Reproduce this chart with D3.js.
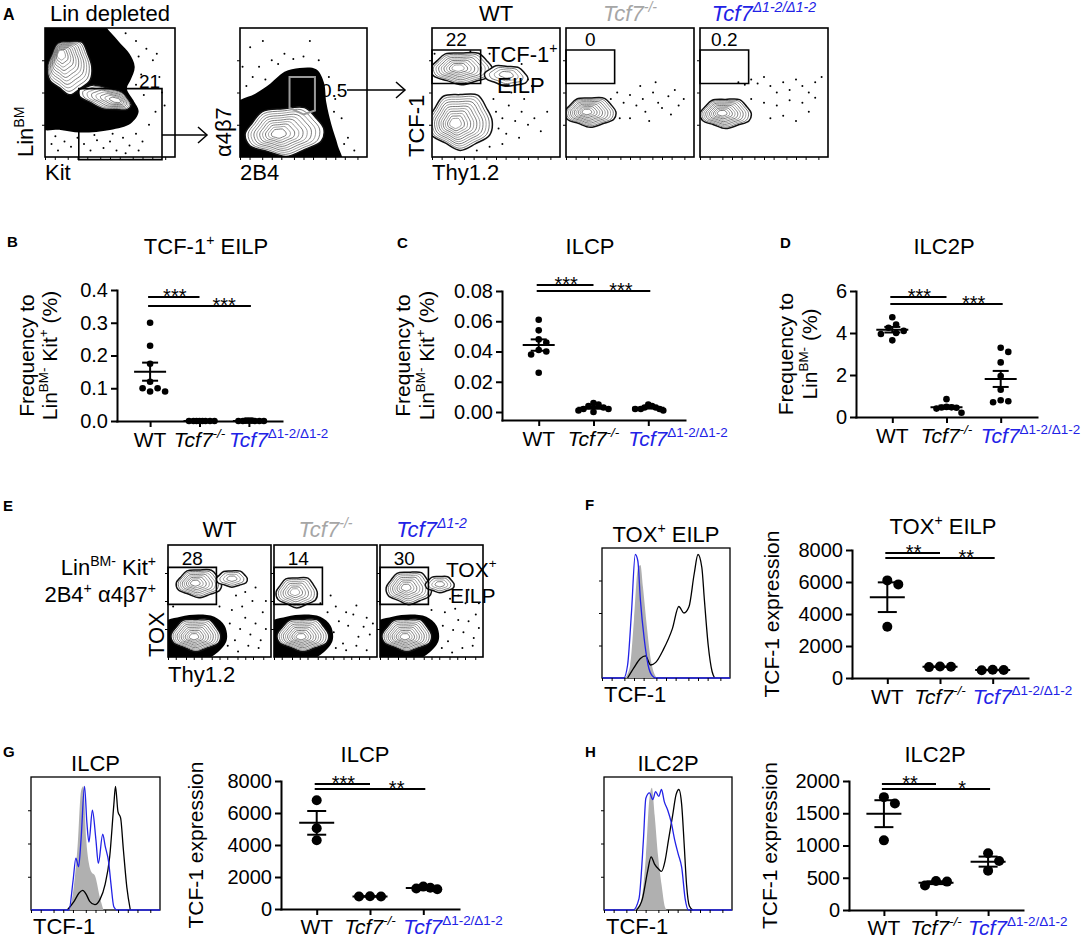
<!DOCTYPE html>
<html>
<head>
<meta charset="utf-8">
<script src="https://cdn.jsdelivr.net/npm/d3@7/dist/d3.min.js"></script>
<style>
  html, body { margin: 0; background: #fff; }
  svg { display: block; }
</style>
</head>
<body>
<svg id="fig" width="1084" height="945"></svg>
<script>
const FONT = '"Liberation Sans", Arial, Helvetica, sans-serif';
const BLUE = '#2222e6';
const GREY = '#a6a6a6';

// ---------- groups ----------
const groupKeys = ['WT', 'KO', 'DEL'];

// B: TCF-1+ EILP, % of LinBM- Kit+
const eilpWT  = [0.30, 0.23, 0.175, 0.12, 0.09, 0.10, 0.09, 0.10];
const eilpKO  = [0, 0, 0, 0, 0, 0, 0, 0];
const eilpDel = [0.001, 0, 0.001, 0, 0, 0.001, 0, 0];
const eilpTicks = [0, 0.1, 0.2, 0.3, 0.4];

// C: ILCP, % of LinBM- Kit+
const ilcpWT  = [0.061, 0.054, 0.048, 0.046, 0.041, 0.040, 0.038, 0.026];
const ilcpKO  = [0.006, 0.005, 0.004, 0.003, 0.002, 0.002, 0.001, 0.000];
const ilcpDel = [0.005, 0.004, 0.003, 0.003, 0.002, 0.002, 0.002, 0.001];
const ilcpTicks = [0, 0.02, 0.04, 0.06, 0.08];

// D: ILC2P, % of LinBM-
const ilc2pWT  = [4.75, 4.4, 4.25, 4.1, 4.0, 3.95, 3.65];
const ilc2pKO  = [0.85, 0.48, 0.46, 0.45, 0.44, 0.40, 0.20];
const ilc2pDel = [3.3, 3.1, 2.6, 1.95, 1.3, 0.8, 0.75, 0.7];
const ilc2pTicks = [0, 2, 4, 6];

// F, G, H: TCF-1 expression (MFI)
const toxMfiWT  = [6100, 5850, 3200];
const toxMfiKO  = [680, 720, 700];
const toxMfiDel = [480, 520, 500];
const ilcpMfiWT  = [6800, 5050, 4300];
const ilcpMfiKO  = [780, 800, 780];
const ilcpMfiDel = [1230, 1330, 1400, 1280];
const ilc2pMfiWT  = [1750, 1650, 1080];
const ilc2pMfiKO  = [450, 440, 380];
const ilc2pMfiDel = [880, 760, 610];
const mfiTicks  = [0, 2000, 4000, 6000, 8000];
const mfi2Ticks = [0, 500, 1000, 1500, 2000];

// histogram traces, [position 0-1 on TCF-1 axis, relative count]
const toxHistKO  = [[0.18,0],[0.22,0.1],[0.25,0.45],[0.28,0.84],[0.30,0.87],[0.32,0.7],[0.35,0.4],[0.38,0.15],[0.41,0.03],[0.43,0]];
const toxHistDel = [[0,0],[0.17,0],[0.2,0.1],[0.23,0.5],[0.26,0.95],[0.28,0.9],[0.3,0.6],[0.33,0.3],[0.36,0.1],[0.39,0.02],[0.42,0],[1,0]];
const toxHistWT  = [[0.2,0],[0.25,0.08],[0.3,0.15],[0.34,0.17],[0.38,0.1],[0.42,0.12],[0.48,0.22],[0.55,0.38],[0.6,0.55],[0.64,0.5],[0.68,0.55],[0.72,0.8],[0.75,0.95],[0.78,0.85],[0.8,0.6],[0.83,0.25],[0.86,0.05],[0.88,0]];
const ilcpHistKO  = [[0.276,0],[0.308,0.04],[0.334,0.195],[0.361,0.48],[0.388,0.895],[0.406,0.93],[0.428,0.53],[0.449,0.35],[0.468,0.286],[0.495,0.26],[0.535,0.09],[0.562,0]];
const ilcpHistDel = [[0,0],[0.294,0],[0.326,0.22],[0.348,0.39],[0.369,0.325],[0.388,0.53],[0.415,0.93],[0.433,0.66],[0.449,0.51],[0.476,0.75],[0.503,0.53],[0.522,0.35],[0.556,0.57],[0.575,0.48],[0.602,0.36],[0.62,0.195],[0.642,0.025],[0.668,0],[1,0]];
const ilcpHistWT  = [[0.281,0],[0.334,0.065],[0.374,0.13],[0.401,0.148],[0.428,0.118],[0.455,0.065],[0.495,0.04],[0.535,0.08],[0.575,0.195],[0.61,0.40],[0.642,0.79],[0.655,0.93],[0.674,0.74],[0.695,0.69],[0.716,0.455],[0.743,0.17],[0.77,0]];
const ilc2pHistKO  = [[0.232,0],[0.287,0.058],[0.327,0.40],[0.355,0.84],[0.374,0.92],[0.396,0.71],[0.423,0.40],[0.45,0.188],[0.477,0.02],[0.49,0]];
const ilc2pHistDel = [[0,0],[0.227,0],[0.273,0.084],[0.308,0.528],[0.327,0.84],[0.355,0.88],[0.381,0.83],[0.403,0.89],[0.428,0.854],[0.449,0.906],[0.471,0.815],[0.498,0.75],[0.525,0.66],[0.552,0.528],[0.58,0.42],[0.607,0.32],[0.634,0.084],[0.661,0],[1,0]];
const ilc2pHistWT  = [[0.254,0],[0.30,0.084],[0.341,0.293],[0.368,0.40],[0.395,0.345],[0.428,0.306],[0.449,0.29],[0.477,0.37],[0.504,0.528],[0.536,0.71],[0.563,0.867],[0.585,0.906],[0.607,0.79],[0.626,0.50],[0.645,0.19],[0.667,0.03],[0.694,0]];

// flow plots: shapes in box units (x right, y up); blobs = [cx, cy, rx, ry, angle, innerCx, innerCy, rings]
const linKitDense = [[-0.05,1.05],[0.42,1.05],[0.5,0.97],[0.58,0.88],[0.65,0.8],[0.69,0.7],[0.66,0.6],[0.63,0.53],[0.68,0.44],[0.72,0.35],[0.66,0.26],[0.5,0.21],[0.27,0.19],[0.12,0.21],[-0.05,0.23]];
const linKitBlobs = [[0.19,0.7,0.17,0.2,0,0.12,0.8,11],[0.46,0.46,0.21,0.08,15,0.55,0.44,8]];
const linKitDots = [[0.05,0.1],[0.1,0.05],[0.15,0.12],[0.2,0.08],[0.3,0.1],[0.35,0.05],[0.4,0.13],[0.45,0.07],[0.5,0.12],[0.55,0.05],[0.6,0.15],[0.65,0.09],[0.7,0.18],[0.75,0.12],[0.8,0.25],[0.85,0.35],[0.9,0.5],[0.88,0.62],[0.92,0.4],[0.25,0.15],[0.08,0.16],[0.38,0.17],[0.52,0.18],[0.62,0.03],[0.72,0.05],[0.83,0.75],[0.78,0.84],[0.86,0.8],[0.72,0.78],[0.74,0.64],[0.7,0.56],[0.76,0.48],[0.62,0.96],[0.7,0.9]];
const linKitGate = [[0.26,0.53],[0.9,0.53],[0.9,-0.02],[0.26,-0.02]];

const a4b7Dense = [[-0.05,-0.05],[-0.05,0.4],[0.12,0.49],[0.24,0.57],[0.35,0.66],[0.47,0.69],[0.6,0.68],[0.66,0.58],[0.68,0.42],[0.72,0.25],[0.77,0.09],[0.8,-0.05]];
const a4b7Blobs = [[0.35,0.2,0.31,0.18,-4,0.3,0.18,10]];
const a4b7Dots = [[0.05,0.55],[0.1,0.62],[0.15,0.7],[0.2,0.6],[0.25,0.75],[0.3,0.72],[0.08,0.85],[0.35,0.8],[0.42,0.76],[0.5,0.78],[0.62,0.75],[0.7,0.62],[0.75,0.45],[0.8,0.3],[0.85,0.15],[0.9,0.05],[0.78,0.55],[0.02,0.7],[0.18,0.9],[0.55,0.9],[0.74,0.35],[0.82,0.1]];
const a4b7Gate = [[0.39,0.62],[0.59,0.62],[0.59,0.36],[0.5,0.33],[0.39,0.38]];

const tcfWTBlobs = [[0.23,0.69,0.24,0.12,0,0.2,0.69,9],[0.58,0.63,0.17,0.075,6,0.58,0.64,4],[0.22,0.28,0.25,0.21,0,0.18,0.26,11]];
const tcfWTDots = [[0.5,0.35],[0.55,0.3],[0.6,0.4],[0.52,0.22],[0.65,0.28],[0.7,0.35],[0.58,0.18],[0.75,0.25],[0.68,0.15],[0.8,0.3],[0.48,0.45],[0.62,0.5],[0.72,0.45],[0.85,0.2],[0.55,0.1],[0.45,0.08],[0.9,0.35],[0.35,0.05],[0.78,0.55],[0.02,0.8],[0.3,0.82],[0.45,0.8],[0.7,0.72],[0.75,0.6]];
const tcfKOBlobs = [[0.19,0.35,0.2,0.11,0,0.16,0.35,10]];
const tcfKODots = [[0.35,0.45],[0.4,0.5],[0.45,0.42],[0.5,0.48],[0.55,0.4],[0.6,0.45],[0.62,0.35],[0.68,0.5],[0.72,0.42],[0.75,0.38],[0.8,0.47],[0.85,0.52],[0.88,0.4],[0.92,0.45],[0.5,0.3],[0.65,0.28],[0.42,0.3],[0.58,0.55],[0.7,0.58],[0.82,0.33]];
const tcfDelBlobs = [[0.2,0.34,0.2,0.11,0,0.17,0.34,10]];
const tcfDelDots = [[0.3,0.58],[0.35,0.56],[0.4,0.6],[0.45,0.57],[0.5,0.62],[0.55,0.55],[0.6,0.5],[0.65,0.58],[0.7,0.52],[0.75,0.6],[0.8,0.55],[0.85,0.5],[0.9,0.58],[0.95,0.62],[0.4,0.45],[0.5,0.42],[0.6,0.4],[0.7,0.44],[0.8,0.42],[0.9,0.46],[0.55,0.3],[0.65,0.32],[0.75,0.28],[0.85,0.35]];
const tcfGate = [[0,0.83],[0.38,0.83],[0.38,0.57],[0,0.57]];
const tcfGateLabels = ['22', '0', '0.2'];

const toxLowDense = [[-0.05,0.0],[0.1,-0.05],[0.3,-0.05],[0.48,0.04],[0.57,0.15],[0.55,0.28],[0.45,0.36],[0.3,0.38],[0.12,0.36],[-0.05,0.3]];
const toxWTBlobs = [[0.3,0.66,0.22,0.12,0,0.26,0.66,8],[0.62,0.7,0.15,0.07,0,0.62,0.7,4],[0.27,0.2,0.24,0.14,0,0.25,0.18,10]];
const toxKOBlobs = [[0.22,0.58,0.2,0.13,0,0.2,0.58,7],[0.28,0.2,0.25,0.14,0,0.26,0.18,10]];
const toxDelBlobs = [[0.28,0.62,0.22,0.14,0,0.25,0.62,8],[0.58,0.65,0.14,0.07,0,0.58,0.65,4],[0.26,0.2,0.24,0.14,0,0.24,0.18,10]];
const toxWTDots = [[0.55,0.2],[0.6,0.3],[0.65,0.15],[0.7,0.25],[0.75,0.35],[0.8,0.2],[0.85,0.3],[0.9,0.15],[0.62,0.42],[0.72,0.45],[0.82,0.5],[0.92,0.4],[0.58,0.1],[0.68,0.05],[0.78,0.1],[0.88,0.08],[0.95,0.25],[0.5,0.45],[0.85,0.62],[0.75,0.58],[0.95,0.5],[0.66,0.55],[0.05,0.45],[0.45,0.05]];
const toxKODots = [[0.58,0.22],[0.63,0.32],[0.67,0.12],[0.72,0.28],[0.77,0.38],[0.82,0.18],[0.87,0.27],[0.93,0.2],[0.6,0.45],[0.7,0.4],[0.8,0.46],[0.9,0.35],[0.6,0.08],[0.7,0.06],[0.8,0.1],[0.9,0.06],[0.96,0.3],[0.52,0.4],[0.55,0.55],[0.45,0.48]];
const toxDelDots = [[0.56,0.18],[0.61,0.28],[0.66,0.14],[0.71,0.24],[0.76,0.33],[0.81,0.22],[0.86,0.32],[0.91,0.17],[0.63,0.4],[0.73,0.43],[0.83,0.48],[0.93,0.38],[0.6,0.08],[0.7,0.04],[0.8,0.08],[0.9,0.1],[0.96,0.26],[0.5,0.42],[0.86,0.6],[0.76,0.55],[0.96,0.48],[0.68,0.52]];
const toxGate = [[0,0.8],[0.47,0.8],[0.47,0.47],[0,0.47]];
const toxGateLabels = ['28', '14', '30'];

// irregular outline used for every contour ring (radial factors)
const ringWobble = [1, 1.06, 0.97, 1.09, 0.94, 1.04, 1.0, 0.92, 1.05, 0.97, 1.1, 0.95];

// ---------- helpers ----------
const svg = d3.select('#fig').attr('font-family', FONT);

// segs: [[text, kind]] with kind 'sup' (superscript) or 'supN' (upright superscript)
function addText(parent, x, y, segs, o = {}) {
  const size = o.size || 20;
  const t = parent.append('text')
    .attr('x', x).attr('y', y)
    .attr('font-size', size)
    .attr('text-anchor', o.anchor || 'start')
    .attr('fill', o.color || '#000');
  if (o.weight) t.attr('font-weight', o.weight);
  if (o.italic) t.attr('font-style', 'italic');
  if (o.rotate) t.attr('transform', `rotate(${o.rotate},${x},${y})`);
  if (typeof segs === 'string') segs = [[segs]];
  let up = false;
  for (const [s, kind] of segs) {
    const sp = t.append('tspan').text(s);
    if (kind === 'sup' || kind === 'supN') {
      sp.attr('font-size', size * 0.64);
      if (kind === 'supN') sp.attr('font-style', 'normal');
      if (!up) { sp.attr('dy', -size * 0.42); up = true; }
    } else if (up) {
      sp.attr('dy', size * 0.42); up = false;
    }
  }
  return t;
}

const groupLabel = {
  WT:  { segs: [['WT']], color: '#000', italic: false },
  KO:  { segs: [['Tcf7'], ['-/-', 'sup']], color: '#000', italic: true },
  DEL: { segs: [['Tcf7'], ['Δ1-2/Δ1-2', 'supN']], color: BLUE, italic: true }
};

function swarm(vals, y, r, maxHalf) {
  const pts = vals.map(v => ({ v, py: y(v), dx: 0 })).sort((a, b) => a.py - b.py);
  const d = 2 * r + 1, step = d / 2;
  const placed = [];
  for (const p of pts) {
    for (let k = 0; k < 60; k++) {
      const dx = (k % 2 ? 1 : -1) * Math.ceil(k / 2) * step;
      if (placed.every(q => Math.hypot(q.dx - dx, q.py - p.py) >= d)) { p.dx = dx; break; }
    }
    placed.push(p);
  }
  const m = d3.max(pts, p => Math.abs(p.dx));
  if (m > maxHalf) pts.forEach(p => { p.dx *= maxHalf / m; });
  return pts;
}

function dotPlot(p) {
  const g = svg.append('g');
  const lo = p.zeroY === p.axisY ? 0 : -(p.axisY - p.zeroY) / (p.zeroY - p.topY) * p.max;
  const y = d3.scaleLinear().domain([lo, p.max]).range([p.axisY, p.topY]);
  const x = d3.scalePoint().domain(groupKeys).range([p.axisX, p.xEnd]).padding(0.67);

  const ya = g.append('g').attr('transform', `translate(${p.axisX},0)`)
    .call(d3.axisLeft(y).tickValues(p.ticks).tickFormat(p.fmt).tickSize(6).tickSizeOuter(0).tickPadding(3));
  ya.attr('font-family', FONT).attr('font-size', 20);
  ya.select('.domain').attr('stroke-width', 2).attr('stroke-linecap', 'square');
  ya.selectAll('.tick line').attr('stroke-width', 2);
  ya.selectAll('.tick text').attr('fill', '#000');

  const xa = g.append('g').attr('transform', `translate(0,${p.axisY})`)
    .call(d3.axisBottom(x).tickSize(6).tickSizeOuter(0).tickFormat(''));
  xa.select('.domain').attr('stroke-width', 2).attr('stroke-linecap', 'square');
  xa.selectAll('.tick line').attr('stroke-width', 2);

  groupKeys.forEach(k => {
    const L = groupLabel[k];
    const lx = k === 'DEL' ? x(k) - 20 : x(k);
    addText(g, lx, p.axisY + (p.labelDy || 26), L.segs, { size: 21, anchor: k === 'DEL' ? 'start' : 'middle', color: L.color, italic: L.italic });
  });

  p.data.forEach((vals, i) => {
    const cx = x(groupKeys[i]);
    const pts = swarm(vals, y, p.r, p.spread);
    g.append('g').selectAll('circle').data(pts).join('circle')
      .attr('cx', d => cx + d.dx).attr('cy', d => d.py).attr('r', p.r).attr('fill', '#000');
    const m = d3.mean(vals);
    const se = (d3.deviation(vals) || 0) / Math.sqrt(vals.length);
    const eb = g.append('g').attr('stroke', '#000').attr('stroke-width', 2);
    eb.append('line').attr('x1', cx - p.meanW).attr('x2', cx + p.meanW).attr('y1', y(m)).attr('y2', y(m));
    if (se > 0) {
      eb.append('line').attr('x1', cx).attr('x2', cx).attr('y1', y(m - se)).attr('y2', y(m + se));
      [m - se, m + se].forEach(v => eb.append('line')
        .attr('x1', cx - p.capW).attr('x2', cx + p.capW).attr('y1', y(v)).attr('y2', y(v)));
    }
  });

  // significance brackets
  const [s1, s2] = p.sig;
  const x0 = x('WT') - 2;
  const sig = g.append('g').attr('stroke', '#000').attr('stroke-width', 2);
  sig.append('line').attr('x1', x0).attr('x2', x('KO')).attr('y1', y(s1[1])).attr('y2', y(s1[1]));
  sig.append('line').attr('x1', x0).attr('x2', x('DEL') + 2).attr('y1', y(s2[1])).attr('y2', y(s2[1]));
  addText(g, (x('WT') + x('KO')) / 2, y(s1[1]) + 6, s1[0], { size: 20, anchor: 'middle' });
  addText(g, (x('KO') + x('DEL')) / 2, y(s2[1]) + 6, s2[0], { size: 20, anchor: 'middle' });

  addText(g, p.titleX, p.titleY, p.title, { size: 22, anchor: 'middle' });
  const cy = (p.topY + p.axisY) / 2;
  p.yLabel.forEach((segs, i) => addText(g, p.yLabelX[i], cy, segs, { size: 21, anchor: 'middle', rotate: -90 }));
  if (p.letter) addText(g, p.letter[1], p.letter[2], p.letter[0], { size: 15, weight: 'bold' });
}

function logTicks(g, box) {
  const lx = d3.scaleLog().domain([10, 1e5]).range([box.x, box.x + box.w]);
  const ly = d3.scaleLog().domain([10, 1e5]).range([box.y + box.h, box.y]);
  const minor = lx.ticks().filter(v => [1, 2, 5].includes(+String(v)[0]) && v < 1e5);
  g.append('g').attr('transform', `translate(0,${box.y + box.h})`)
    .call(d3.axisBottom(lx).tickValues(minor).tickSize(3).tickFormat(''))
    .call(a => a.select('.domain').remove());
  g.append('g').attr('transform', `translate(${box.x},0)`)
    .call(d3.axisLeft(ly).tickValues([100, 1000, 10000]).tickSize(3).tickFormat(''))
    .call(a => a.select('.domain').remove());
}

const ringLine = d3.line().curve(d3.curveCatmullRomClosed.alpha(0.5));
function ringPath(cx, cy, rx, ry, ang) {
  const a = ang * Math.PI / 180, n = ringWobble.length;
  return ringLine(ringWobble.map((w, k) => {
    const th = 2 * Math.PI * k / n;
    const px = Math.cos(th) * rx * w, py = Math.sin(th) * ry * w;
    return [cx + px * Math.cos(a) - py * Math.sin(a), cy + px * Math.sin(a) + py * Math.cos(a)];
  }));
}

let clipN = 0;
function flowPlot(box, spec) {
  const g = svg.append('g');
  const x = d3.scaleLinear().domain([0, 1]).range([box.x, box.x + box.w]);
  const y = d3.scaleLinear().domain([0, 1]).range([box.y + box.h, box.y]);
  const id = 'clip' + (clipN++);
  g.append('clipPath').attr('id', id).append('rect')
    .attr('x', box.x).attr('y', box.y).attr('width', box.w).attr('height', box.h);
  const inner = g.append('g').attr('clip-path', `url(#${id})`);
  const shape = d3.line().x(d => x(d[0])).y(d => y(d[1])).curve(d3.curveCatmullRomClosed.alpha(0.5));

  (spec.dense || []).forEach(poly => inner.append('path').attr('d', shape(poly)).attr('fill', '#000'));
  inner.append('g').selectAll('circle').data(spec.dots || []).join('circle')
    .attr('cx', d => x(d[0])).attr('cy', d => y(d[1])).attr('r', 1).attr('fill', '#000');
  (spec.blobs || []).forEach(([cx, cy, rx, ry, ang, icx, icy, n]) => {
    for (let i = 0; i < n; i++) {
      const t = i / n;
      const ex = x(cx + (icx - cx) * t), ey = y(cy + (icy - cy) * t);
      inner.append('path')
        .attr('d', ringPath(ex, ey, rx * (1 - t * 0.9) * box.w, ry * (1 - t * 0.9) * box.h, ang))
        .attr('fill', '#fff')
        .attr('stroke', i === 0 ? '#111' : (i % 2 ? '#444' : '#777'))
        .attr('stroke-width', i === 0 ? 1.5 : 0.7);
    }
  });
  if (spec.gate) {
    g.append('path').attr('d', d3.line().x(d => x(d[0])).y(d => y(d[1]))(spec.gate) + 'Z')
      .attr('fill', 'none').attr('stroke', spec.gateColor || '#000').attr('stroke-width', spec.gateColor ? 2 : 1.6);
  }
  g.append('rect').attr('x', box.x).attr('y', box.y).attr('width', box.w).attr('height', box.h)
    .attr('fill', 'none').attr('stroke', '#000').attr('stroke-width', 1.6);
  logTicks(g, box);
  return { g, x, y };
}

function histPlot(p) {
  const g = svg.append('g');
  const x = d3.scaleLinear().domain([0, 1]).range([p.x, p.x + p.w]);
  const y = d3.scaleLinear().domain([0, 1]).range([p.y + p.h, p.y]);
  const area = d3.area().x(d => x(d[0])).y0(y(0)).y1(d => y(d[1])).curve(d3.curveMonotoneX);
  const line = d3.line().x(d => x(d[0])).y(d => y(d[1])).curve(d3.curveMonotoneX);
  g.append('rect').attr('x', p.x).attr('y', p.y).attr('width', p.w).attr('height', p.h)
    .attr('fill', 'none').attr('stroke', '#000').attr('stroke-width', 1.3);
  g.append('path').attr('d', area(p.ko)).attr('fill', '#b0b0b0');
  g.append('path').attr('d', line(p.wt)).attr('fill', 'none').attr('stroke', '#000').attr('stroke-width', 1.3);
  g.append('path').attr('d', line(p.del)).attr('fill', 'none').attr('stroke', BLUE).attr('stroke-width', 1.3);
  logTicks(g, p);
  addText(g, p.x + p.w / 2, p.y - 6, p.title, { size: 22, anchor: 'middle' });
  addText(g, p.x + 2, p.y + p.h + 24, 'TCF-1', { size: 22 });
}

function arrow(x1, x2, yy) {
  const g = svg.append('g').attr('stroke', '#000').attr('stroke-width', 1.5).attr('fill', 'none');
  g.append('line').attr('x1', x1).attr('x2', x2).attr('y1', yy).attr('y2', yy);
  g.append('path').attr('d', `M${x2 - 9},${yy - 8}L${x2},${yy}L${x2 - 9},${yy + 8}`);
}

// ---------- A ----------
addText(svg, 3, 20, 'A', { size: 16, weight: 'bold' });
addText(svg, 50, 21, 'Lin depleted', { size: 22 });
const boxLK = { x: 45, y: 28, w: 130, h: 129 };
const boxAB = { x: 240, y: 28, w: 127, h: 129 };
flowPlot(boxLK, { dense: [linKitDense], blobs: linKitBlobs, dots: linKitDots, gate: linKitGate });
addText(svg, 139, 88, '21', { size: 19 });
flowPlot(boxAB, { dense: [a4b7Dense], blobs: a4b7Blobs, dots: a4b7Dots, gate: a4b7Gate, gateColor: '#9a9a9a' });
addText(svg, 321, 97, '0.5', { size: 19 });
arrow(162, 207, 135);
arrow(347, 405, 90);
addText(svg, 45, 180, 'Kit', { size: 22 });
addText(svg, 240, 180, '2B4', { size: 22 });
addText(svg, 33, 157, [['Lin'], ['BM', 'sup']], { size: 22, rotate: -90 });
addText(svg, 231, 157, 'α4β7', { size: 22, rotate: -90 });

const tcfBoxes = [432, 566, 700].map(bx => ({ x: bx, y: 28, w: 128, h: 129 }));
const tcfSpecs = [
  { blobs: tcfWTBlobs, dots: tcfWTDots, gate: tcfGate },
  { blobs: tcfKOBlobs, dots: tcfKODots, gate: tcfGate },
  { blobs: tcfDelBlobs, dots: tcfDelDots, gate: tcfGate }
];
const headersA = [
  { segs: [['WT']], color: '#000', italic: false },
  { segs: [['Tcf7'], ['-/-', 'sup']], color: GREY, italic: true },
  { segs: [['Tcf7'], ['Δ1-2/Δ1-2', 'sup']], color: BLUE, italic: true }
];
tcfBoxes.forEach((b, i) => {
  const f = flowPlot(b, tcfSpecs[i]);
  addText(svg, f.x(0.19), b.y + 18, tcfGateLabels[i], { size: 19, anchor: 'middle' });
  addText(svg, b.x + b.w / 2, 21, headersA[i].segs, { size: 22, anchor: 'middle', color: headersA[i].color, italic: headersA[i].italic });
});
addText(svg, 487, 62, [['TCF-1'], ['+', 'sup']], { size: 22 });
addText(svg, 497, 93, 'EILP', { size: 22 });
addText(svg, 432, 180, 'Thy1.2', { size: 22 });
addText(svg, 424, 157, 'TCF-1', { size: 22, rotate: -90 });

// ---------- B, C, D ----------
const freqLabel = [[['Frequency to']], [['Lin'], ['BM-', 'sup'], [' Kit'], ['+', 'sup'], [' (%)']]];
dotPlot({
  letter: ['B', 7, 247], title: [['TCF-1'], ['+', 'sup'], [' EILP']], titleX: 206, titleY: 254,
  yLabel: freqLabel, yLabelX: [34, 57],
  axisX: 117, xEnd: 282, axisY: 421, zeroY: 421, topY: 290, max: 0.4,
  ticks: eilpTicks, fmt: d3.format('.1f'),
  data: [eilpWT, eilpKO, eilpDel], r: 3.3, spread: 15, meanW: 16, capW: 8,
  sig: [['***', 0.379], ['***', 0.351]]
});
dotPlot({
  letter: ['C', 397, 248], title: 'ILCP', titleX: 590, titleY: 254,
  yLabel: freqLabel, yLabelX: [410, 434],
  axisX: 502, xEnd: 685, axisY: 420, zeroY: 412, topY: 291, max: 0.08,
  ticks: ilcpTicks, fmt: d3.format('.2f'),
  data: [ilcpWT, ilcpKO, ilcpDel], r: 3.3, spread: 15, meanW: 16, capW: 8,
  sig: [['***', 0.084], ['***', 0.080]]
});
dotPlot({
  letter: ['D', 780, 248], title: 'ILC2P', titleX: 944, titleY: 254,
  yLabel: [[['Frequency to']], [['Lin'], ['BM-', 'sup'], [' (%)']]], yLabelX: [793, 817],
  axisX: 856, xEnd: 1037, axisY: 417, zeroY: 417, topY: 291, max: 6,
  ticks: ilc2pTicks, fmt: d3.format('d'),
  data: [ilc2pWT, ilc2pKO, ilc2pDel], r: 3.3, spread: 15, meanW: 16, capW: 8,
  sig: [['***', 5.71], ['***', 5.38]]
});

// ---------- E ----------
addText(svg, 3, 511, 'E', { size: 15, weight: 'bold' });
const toxBoxes = [168, 274, 380].map(bx => ({ x: bx, y: 545, w: 103, h: 112 }));
const toxSpecs = [
  { dense: [toxLowDense], blobs: toxWTBlobs, dots: toxWTDots, gate: toxGate },
  { dense: [toxLowDense], blobs: toxKOBlobs, dots: toxKODots, gate: toxGate },
  { dense: [toxLowDense], blobs: toxDelBlobs, dots: toxDelDots, gate: toxGate }
];
const headersE = [
  { segs: [['WT']], color: '#000', italic: false },
  { segs: [['Tcf7'], ['-/-', 'sup']], color: GREY, italic: true },
  { segs: [['Tcf7'], ['Δ1-2', 'sup']], color: BLUE, italic: true }
];
toxBoxes.forEach((b, i) => {
  const f = flowPlot(b, toxSpecs[i]);
  addText(svg, f.x(0.235), b.y + 20, toxGateLabels[i], { size: 19, anchor: 'middle' });
  addText(svg, b.x + b.w / 2, b.y - 8, headersE[i].segs, { size: 22, anchor: 'middle', color: headersE[i].color, italic: headersE[i].italic });
});
const e0 = toxBoxes[0], e2 = toxBoxes[2];
addText(svg, e0.x - 12, e0.y + 30, [['Lin'], ['BM-', 'sup'], [' Kit'], ['+', 'sup']], { size: 22, anchor: 'end' });
addText(svg, e0.x - 12, e0.y + 57, [['2B4'], ['+', 'sup'], [' α4β7'], ['+', 'sup']], { size: 22, anchor: 'end' });
addText(svg, e0.x - 4, e0.y + e0.h, 'TOX', { size: 22, rotate: -90 });
addText(svg, e0.x, e0.y + e0.h + 25, 'Thy1.2', { size: 22 });
addText(svg, e2.x + e2.w * 0.64, e2.y + 32, [['TOX'], ['+', 'sup']], { size: 21 });
addText(svg, e2.x + e2.w * 0.68, e2.y + 58, 'EILP', { size: 21 });

// ---------- F ----------
addText(svg, 585, 510, 'F', { size: 15, weight: 'bold' });
histPlot({ x: 602, y: 548, w: 128, h: 130, title: [['TOX'], ['+', 'sup'], [' EILP']], ko: toxHistKO, del: toxHistDel, wt: toxHistWT });
dotPlot({
  title: [['TOX'], ['+', 'sup'], [' EILP']], titleX: 943, titleY: 534,
  yLabel: [[['TCF-1 expression']]], yLabelX: [779],
  axisX: 852, xEnd: 1028, axisY: 678, zeroY: 678, topY: 550, max: 8000,
  ticks: mfiTicks, fmt: d3.format('d'),
  data: [toxMfiWT, toxMfiKO, toxMfiDel], r: 5, spread: 14, meanW: 17.5, capW: 9.5,
  sig: [['**', 7810], ['**', 7500]]
});

// ---------- G ----------
addText(svg, 3, 757, 'G', { size: 15, weight: 'bold' });
histPlot({ x: 31, y: 777, w: 129, h: 133, title: 'ILCP', ko: ilcpHistKO, del: ilcpHistDel, wt: ilcpHistWT });
dotPlot({
  title: 'ILCP', titleX: 365, titleY: 762,
  yLabel: [[['TCF-1 expression']]], yLabelX: [203],
  axisX: 281, xEnd: 459, axisY: 909, zeroY: 909, topY: 781, max: 8000,
  ticks: mfiTicks, fmt: d3.format('d'), labelDy: 25,
  data: [ilcpMfiWT, ilcpMfiKO, ilcpMfiDel], r: 5, spread: 14, meanW: 17.5, capW: 9.5,
  sig: [['***', 7810], ['**', 7500]]
});

// ---------- H ----------
addText(svg, 585, 757, 'H', { size: 15, weight: 'bold' });
histPlot({ x: 604, y: 777, w: 128, h: 133, title: 'ILC2P', ko: ilc2pHistKO, del: ilc2pHistDel, wt: ilc2pHistWT });
dotPlot({
  title: 'ILC2P', titleX: 935, titleY: 762,
  yLabel: [[['TCF-1 expression']]], yLabelX: [777],
  axisX: 849, xEnd: 1023, axisY: 910, zeroY: 910, topY: 781, max: 2000,
  ticks: mfi2Ticks, fmt: d3.format('d'), labelDy: 25,
  data: [ilc2pMfiWT, ilc2pMfiKO, ilc2pMfiDel], r: 5, spread: 14, meanW: 17.5, capW: 9.5,
  sig: [['**', 1953], ['*', 1876]]
});
</script>
</body>
</html>
